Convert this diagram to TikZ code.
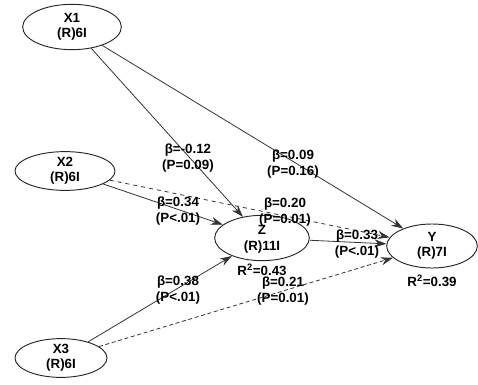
\documentclass[tikz,border=0pt]{standalone}
\usepackage{fontspec}
\setmainfont{Liberation Sans}
\usetikzlibrary{arrows.meta,shapes.geometric}
\begin{document}
\begin{tikzpicture}[x=0.75pt,y=-0.75pt,
  lv/.style={ellipse,draw=black!85,line width=0.7pt,inner sep=0pt,align=center,font=\bfseries\fontsize{10}{11.5}\selectfont},
  lbl/.style={align=center,inner sep=0pt,font=\bfseries\fontsize{10}{11.5}\selectfont},
  path/.style={draw=black!80,line width=0.6pt,-{Stealth[length=9pt,width=6pt]}}]
\useasboundingbox (0,0) rectangle (478,385);
\node[lv,minimum width=74pt,minimum height=34pt] (x1) at (72,27) {X1\\(R)6I};
\node[lv,minimum width=75pt,minimum height=28.5pt] (x2) at (65,171) {X2\\(R)6I};
\node[lv,minimum width=69pt,minimum height=28pt] (x3) at (61,358) {X3\\(R)6I};
\node[lv,minimum width=71pt,minimum height=34pt,text depth=-3pt] (z) at (262,238) {Z\\(R)11I};
\node[lv,minimum width=68pt,minimum height=33pt] (y) at (432,246) {Y\\(R)7I};
\draw[path] (x1) -- (z);
\draw[path] (x1) -- (y);
\draw[path] (x2) -- (z);
\draw[path,dashed] (x2) -- (y);
\draw[path] (x3) -- (z);
\draw[path,densely dashed] (x3) -- (y);
\draw[path] (z) -- (y);
\node[lbl] (l1) at (188,158) {β=-0.12\\(P=0.09)};
\node[lbl] (l2) at (293,164) {β=0.09\\(P=0.16)};
\node[lbl] (l3) at (178,211) {β=0.34\\(P<.01)};
\node[lbl] (l4) at (285,212) {β=0.20\\(P=0.01)};
\node[lbl] (l5) at (357,244) {β=0.33\\(P<.01)};
\node[lbl] (l6) at (178,290) {β=0.38\\(P<.01)};
\node[lbl] (l7) at (283,291) {β=0.21\\(P=0.01)};
\node[lbl] (r1) at (262,270) {R\textsuperscript{2}=0.43};
\node[lbl] (r2) at (432,281) {R\textsuperscript{2}=0.39};
\end{tikzpicture}
\end{document}
